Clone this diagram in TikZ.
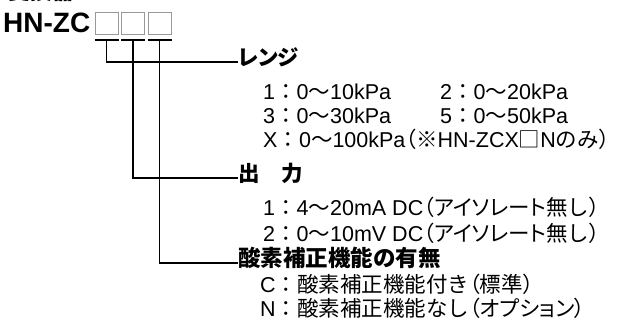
\documentclass[tikz,border=0pt]{standalone}
\usepackage{fontspec}
\setmainfont{Liberation Sans}
\newfontfamily\jp[RawFeature=+palt]{Noto Sans CJK JP}
\newfontfamily\jpf{Noto Sans CJK JP}
\newcommand\J[1]{{\jp #1}}
\newcommand\F[1]{{\jpf #1}}
\tikzset{
  txt/.style={anchor=west, inner sep=0pt, text height=.75em, text depth=.05em, font=\fontsize{21.5}{21.5}\selectfont},
  head/.style={txt, font=\fontsize{21.5}{21.5}\selectfont\bfseries},
  codebox/.style={draw=black!40, line width=1pt, minimum width=23pt, minimum height=22pt, inner sep=0pt},
  conn/.style={line width=1.2pt, black},
}
\begin{document}
\begin{tikzpicture}[x=1pt,y=-1pt]
\useasboundingbox (0,0) rectangle (621,336);
% clipped title
\node[anchor=base west, inner sep=0pt, font=\fontsize{22}{22}\selectfont\bfseries\jpf] (title) at (8,0) {変換器};
\node[anchor=base west, inner sep=0pt, font=\fontsize{28}{28}\selectfont\bfseries] (model) at (3,33) {HN-ZC};
\node[codebox] (b1) at (106.5,24) {};
\node[codebox] (b2) at (133,24) {};
\node[codebox] (b3) at (159.5,24) {};
\foreach \b in {b1,b2,b3}{
  \draw[conn] ([yshift=-4.5pt]\b.south west) -- ([yshift=-4.5pt]\b.south east);
}
% headings
\node[head] (h1) at (238,62) {\J{\bfseries レンジ}};
\node[head] (h2) at (238,178) {\F{\bfseries 出　力}};
\node[head, font=\fontsize{22.5}{22.5}\selectfont] (h3) at (238,263) {\F{\bfseries 酸素補正機能の有無}};
% rows
\node[txt] (r1a) at (263,96) {1\F{：}0\F{～}10kPa};
\node[txt] (r1b) at (440,96) {2\F{：}0\F{～}20kPa};
\node[txt] (r2a) at (263,120) {3\F{：}0\F{～}30kPa};
\node[txt] (r2b) at (440,120) {5\F{：}0\F{～}50kPa};
\node[txt] (r3) at (263,144) {X\F{：}0\F{～}100kPa\J{（}\F{※}HN-ZCX\F{□}N\F{のみ}\J{）}};
\node[txt] (o1) at (263,212) {1\F{：}4\F{～}20mA DC\J{（アイソレート}\F{無し}\J{）}};
\node[txt] (o2) at (263,238) {2\F{：}0\F{～}10mV DC\J{（アイソレート}\F{無し}\J{）}};
\node[txt] (c1) at (260,289) {C\F{：酸素補正機能付き}\J{（}\F{標準}\J{）}};
\node[txt] (c2) at (260,313) {N\F{：酸素補正機能なし}\J{（オプション）}};
% connectors
\draw[conn] ([yshift=-4.5pt]b1.south) |- (h1.west);
\draw[conn] ([yshift=-4.5pt]b2.south) |- (h2.west);
\draw[conn] ([yshift=-4.5pt]b3.south) |- (h3.west);
\end{tikzpicture}
\end{document}
